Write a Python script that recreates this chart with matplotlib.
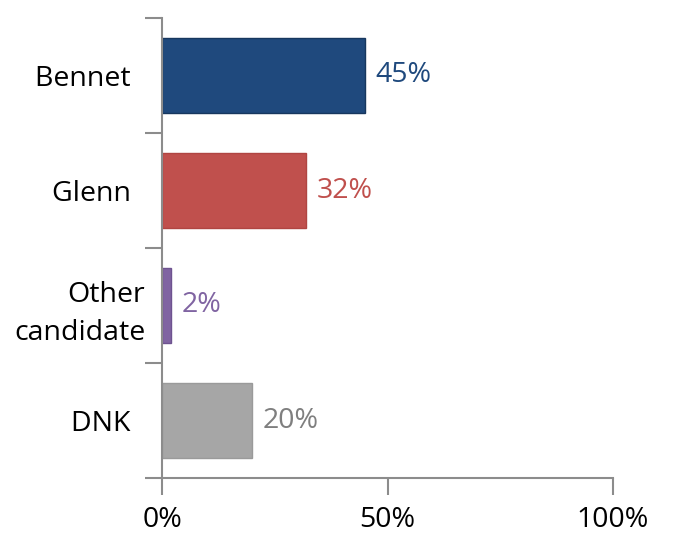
import matplotlib
matplotlib.use("Agg")
import matplotlib.pyplot as plt

categories = ["Bennet  ", "Glenn  ", "Other\ncandidate", "DNK  "]
shares = [45, 32, 2, 20]
labels = ["45%", "32%", "2%", "20%"]
colors = ["#1F497D", "#C0504D", "#8064A2", "#A6A6A6"]
edges = ["#17375E", "#B04542", "#6E5390", "#9A9A9A"]
label_colors = ["#1F497D", "#C0504D", "#8064A2", "#7F7F7F"]
xticks = [0, 50, 100]
xtick_labels = ["0%", "50%", "100%"]

plt.rcParams["font.family"] = ["Open Sans", "DejaVu Sans"]
fs = 20.5

fig = plt.figure(figsize=(6.79, 5.54), dpi=100)
ax = fig.add_axes([162 / 679, 1 - 478 / 554, 451 / 679, 460 / 554])

pos = list(range(len(categories)))
bars = ax.barh(pos, shares, height=0.66, color=colors, edgecolor=edges, linewidth=1)
for b, lab, c in zip(bars, labels, label_colors):
    ax.text(b.get_width() + 2.4, b.get_y() + b.get_height() / 2, lab,
            color=c, fontsize=fs, va="center", ha="left")

ax.set_xlim(0, 100)
ax.set_ylim(len(categories) - 0.5, -0.5)

axis_col = "#8C8C8C"
ax.set_xticks(xticks)
ax.set_xticklabels(xtick_labels, fontsize=fs)
ax.set_yticks([p - 0.5 for p in pos] + [len(pos) - 0.5])
ax.set_yticklabels([])
ax.set_yticks(pos, minor=True)
ax.set_yticklabels(categories, minor=True, fontsize=fs,
                   multialignment="right", linespacing=1.5)
ax.tick_params(axis="y", which="minor", length=0, pad=12)
ax.tick_params(axis="both", which="major", length=12, width=1.5, color=axis_col)
ax.tick_params(axis="x", pad=8)

for s in ["top", "right"]:
    ax.spines[s].set_visible(False)
for s in ["left", "bottom"]:
    ax.spines[s].set_color(axis_col)
    ax.spines[s].set_linewidth(1.5)

fig.savefig("out.png", dpi=100)
